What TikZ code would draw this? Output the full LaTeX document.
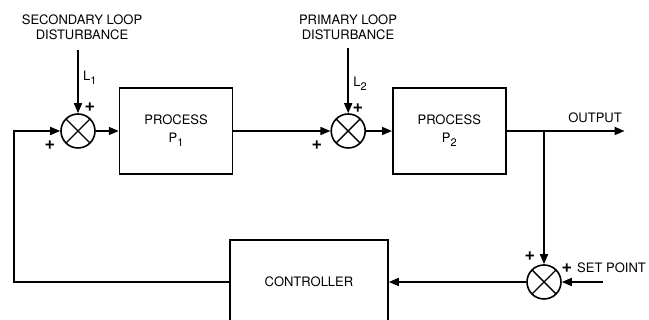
\documentclass[tikz,border=0pt]{standalone}
\usepackage{fontspec}
\setmainfont{TeX Gyre Heros}
\usetikzlibrary{arrows.meta, positioning, calc}
\newcommand{\lowidx}[1]{\raisebox{-4pt}{\fontsize{11}{11}\selectfont #1}}

\begin{document}
\begin{tikzpicture}[
    x=1pt, y=1pt,
    font=\fontsize{13}{18}\selectfont,
    sumjn/.style={circle, draw, line width=1.6pt, minimum size=34pt, inner sep=0pt,
        path picture={\draw[line width=1.4pt] (path picture bounding box.south west) -- (path picture bounding box.north east)
            (path picture bounding box.north west) -- (path picture bounding box.south east);}},
    procbox/.style={rectangle, draw, line width=1.6pt, minimum width=113pt, minimum height=86pt, align=center},
    disttext/.style={align=center, font=\fontsize{13}{15}\selectfont},
    sign/.style={inner sep=0pt, font=\fontsize{18}{18}\selectfont\bfseries},
    arrow/.style={draw, line width=1.6pt, -{Triangle[length=10pt,width=8pt]}}
]
\useasboundingbox (0,0) rectangle (649,320);

% forward path
\node[sumjn] (sum1) at (78,189) {};
\node[procbox, right=23pt of sum1] (proc1) {PROCESS\\P\lowidx{1}};
\node[sumjn, right=97pt of proc1] (sum2) {};
\node[procbox, right=26pt of sum2] (proc2) {PROCESS\\P\lowidx{2}};
\coordinate[right=118pt of proc2] (out);

% feedback path
\node[sumjn] (sum3) at (544,38) {};
\node[procbox, minimum width=158pt, minimum height=84pt] (ctrl) at (309,38) {CONTROLLER};
\coordinate (tap) at (sum3 |- proc2.east);
\coordinate (setpt) at (603,38);
\coordinate (fbk) at (14,38);

% disturbances
\node[disttext] (dist1) at (82,293) {SECONDARY LOOP\\DISTURBANCE};
\node[disttext] (dist2) at (348,293) {PRIMARY LOOP\\DISTURBANCE};
\coordinate (l1top) at ([yshift=81pt]sum1.center);
\coordinate (l2top) at ([yshift=83pt]sum2.center);

\draw[arrow] (sum1) -- (proc1);
\draw[arrow] (proc1) -- (sum2);
\draw[arrow] (sum2) -- (proc2);
\draw[arrow] (proc2) -- node[pos=0.75, above=4pt] (outlbl) {OUTPUT} (out);
\draw[arrow] (tap) -- (sum3);
\draw[arrow] (setpt) -- (sum3);
\draw[arrow] (sum3) -- (ctrl);
\draw[arrow] (ctrl) -- (fbk) |- (sum1);
\draw[arrow] (l1top) -- node[pos=0.44, right=1pt] (l1lbl) {L\lowidx{1}} (sum1);
\draw[arrow] (l2top) -- node[pos=0.55, right=1pt] (l2lbl) {L\lowidx{2}} (sum2);

\node[anchor=west, inner sep=2pt] (splbl) at (575,52) {SET POINT};

% signs
\node[sign] (s1a) at (90,213) {+};
\node[sign] (s1b) at (50,175) {+};
\node[sign] (s2a) at (358,212) {+};
\node[sign] (s2b) at (317,175) {+};
\node[sign] (s3a) at (530,64) {+};
\node[sign] (s3b) at (567,52) {+};

\end{tikzpicture}
\end{document}
